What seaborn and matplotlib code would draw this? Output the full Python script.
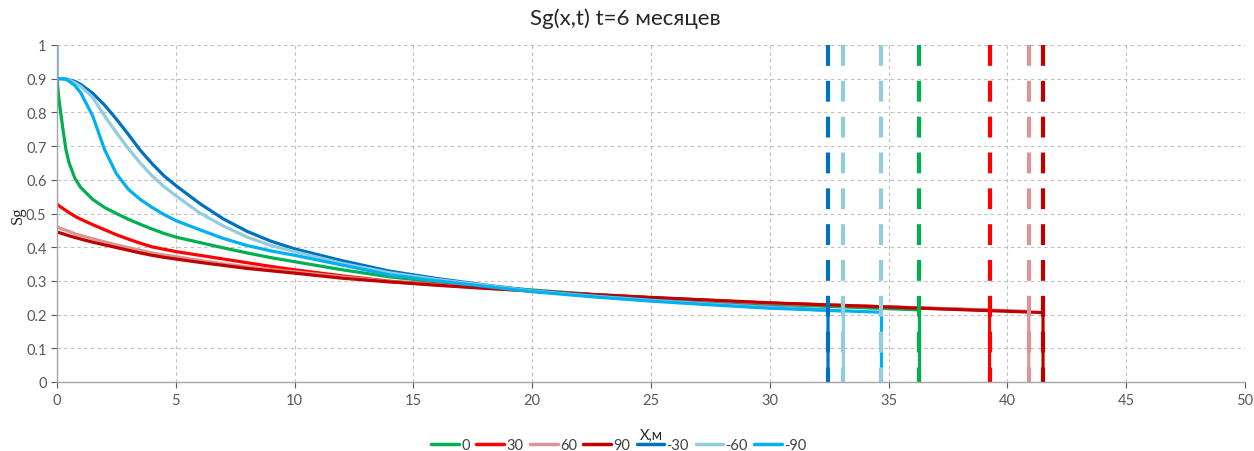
import matplotlib
matplotlib.use("Agg")
import matplotlib.pyplot as plt
import seaborn as sns
import pandas as pd
from matplotlib.lines import Line2D

# Shared x grid (m) for the saturation profiles
x_grid = [0, 0.05, 0.1, 0.25, 0.375, 0.5, 0.75, 1, 1.5, 2, 2.5, 3, 3.5, 4, 4.5, 5,
          6, 7, 8, 9, 10, 12, 14, 16, 18, 20, 22.5, 25, 27.5, 30]

series_names = ["0", "30", "60", "90", "-30", "-60", "-90"]

sg_0 = [0.9, 0.86, 0.828, 0.75, 0.69, 0.652, 0.605, 0.577, 0.542, 0.518, 0.5,
        0.483, 0.468, 0.454, 0.441, 0.43, 0.414, 0.398, 0.383, 0.369, 0.357,
        0.333, 0.312, 0.297, 0.284, 0.273, 0.26, 0.25, 0.24, 0.231]
sg_30 = [0.528, 0.525, 0.522, 0.515, 0.509, 0.503, 0.492, 0.483, 0.467, 0.452,
         0.437, 0.424, 0.412, 0.401, 0.394, 0.387, 0.376, 0.365, 0.354, 0.343,
         0.333, 0.315, 0.299, 0.289, 0.28, 0.27, 0.259, 0.25, 0.242, 0.234]
sg_60 = [0.46, 0.459, 0.457, 0.453, 0.45, 0.447, 0.44, 0.435, 0.425, 0.416,
         0.407, 0.399, 0.391, 0.383, 0.377, 0.372, 0.361, 0.351, 0.342, 0.334,
         0.327, 0.312, 0.298, 0.288, 0.279, 0.27, 0.259, 0.25, 0.242, 0.234]
sg_90 = [0.445, 0.444, 0.443, 0.44, 0.437, 0.434, 0.429, 0.424, 0.415, 0.407,
         0.399, 0.391, 0.383, 0.376, 0.37, 0.365, 0.355, 0.346, 0.337, 0.33,
         0.323, 0.308, 0.297, 0.287, 0.278, 0.27, 0.26, 0.251, 0.243, 0.235]
sg_m30 = [0.9, 0.9, 0.9, 0.9, 0.899, 0.897, 0.892, 0.883, 0.857, 0.822, 0.78,
          0.735, 0.688, 0.648, 0.612, 0.583, 0.53, 0.484, 0.447, 0.418, 0.395,
          0.36, 0.329, 0.307, 0.288, 0.271, 0.256, 0.243, 0.232, 0.222]
sg_m60 = [0.9, 0.9, 0.9, 0.9, 0.898, 0.896, 0.888, 0.877, 0.845, 0.79, 0.74,
          0.693, 0.65, 0.612, 0.58, 0.553, 0.502, 0.463, 0.43, 0.405, 0.387,
          0.352, 0.324, 0.304, 0.287, 0.27, 0.255, 0.242, 0.231, 0.221]
sg_m90 = [0.9, 0.9, 0.9, 0.9, 0.898, 0.893, 0.88, 0.858, 0.79, 0.69, 0.618, 0.572,
          0.542, 0.518, 0.497, 0.479, 0.452, 0.426, 0.405, 0.389, 0.376, 0.347,
          0.318, 0.3, 0.284, 0.268, 0.253, 0.24, 0.229, 0.219]

# Front position (m) and saturation just behind the front
front_x = [36.3, 39.25, 40.9, 41.5, 32.45, 33.1, 34.7]
front_sg = [0.214, 0.213, 0.21, 0.206, 0.213, 0.21, 0.207]

# Inlet saturation for the -90 case
inlet_m90 = 1.0

colors = ["#00B050", "#FF0000", "#DA9694", "#C00000", "#0070C0", "#92CDDC", "#00B0F0"]
front_line_colors = ["#00B050", "#FF0000", "#DA9694", "#C00000", "#0070C0", "#92CDDC", "#92CDDC"]

profiles = [sg_0, sg_30, sg_60, sg_90, sg_m30, sg_m60, sg_m90]

rows = []
for name, prof, xf, sf in zip(series_names, profiles, front_x, front_sg):
    xs = list(x_grid) + [xf, xf]
    ys = list(prof) + [sf, 0.0]
    if name == "-90":
        xs = [0.0] + xs
        ys = [inlet_m90] + ys
    for xv, yv in zip(xs, ys):
        rows.append({"x": xv, "sg": yv, "case": name})
df = pd.DataFrame(rows)

sns.set_theme(style="white")
plt.rcParams["font.family"] = ["Lato", "DejaVu Sans"]

W, H = 1254, 452
fig = plt.figure(figsize=(W / 100, H / 100), dpi=100)
ax = fig.add_axes([57 / W, 1 - 383 / H, (1245 - 57) / W, (383 - 46) / H])

sns.lineplot(data=df, x="x", y="sg", hue="case", hue_order=series_names,
             palette=dict(zip(series_names, colors)), sort=False, estimator=None,
             units="case", linewidth=2.3, ax=ax, legend=False)

# Dashed front markers over the full height
for xf, c in zip(front_x, front_line_colors):
    sns.lineplot(x=[xf, xf], y=[1.0, 0.0], color=c, linewidth=3.0, sort=False,
                 estimator=None, ax=ax, legend=False)
    ax.lines[-1].set_dashes((5.0, 3.6))
    ax.lines[-1].set_dash_capstyle("butt")

ax.set_xlim(0, 50)
ax.set_ylim(0, 1)
ax.set_xticks(range(0, 51, 5))
ax.set_yticks([i / 10 for i in range(11)])
ax.set_yticklabels(["0", "0.1", "0.2", "0.3", "0.4", "0.5", "0.6", "0.7", "0.8", "0.9", "1"])
ax.tick_params(axis="both", labelsize=10.5, colors="#595959", length=4, width=0.8,
               direction="out", bottom=True, left=True)
ax.tick_params(axis="x", pad=4)
ax.grid(True, linestyle=(0, (3, 3)), color="#BFBFBF", linewidth=0.8)
for side in ["top", "right"]:
    ax.spines[side].set_visible(False)
for side in ["left", "bottom"]:
    ax.spines[side].set_color("#A6A6A6")
    ax.spines[side].set_linewidth(1.0)
ax.set_xlabel("")
ax.set_ylabel("")

fig.text(625 / W, 1 - 19 / H, "Sg(x,t) t=6 месяцев", ha="center", va="center",
         fontsize=16, color="#262626")
fig.text(651 / W, 1 - 436 / H, "X,м", ha="center", va="center", fontsize=10.5,
         color="#262626")
fig.text(18 / W, 1 - 215 / H, "Sg", ha="center", va="center", rotation=90,
         fontsize=12, color="#262626", family=["Liberation Serif", "DejaVu Serif"])

handles = [Line2D([0], [0], color=c, linewidth=2.5) for c in colors]
fig.legend(handles, series_names, loc="center", bbox_to_anchor=(619 / W, 1 - 446 / H),
           ncol=7, frameon=False, fontsize=10.5, handlelength=1.9, handletextpad=0.15,
           columnspacing=0.45, labelcolor="#404040", borderpad=0.1)

fig.savefig("out.png", dpi=100)
